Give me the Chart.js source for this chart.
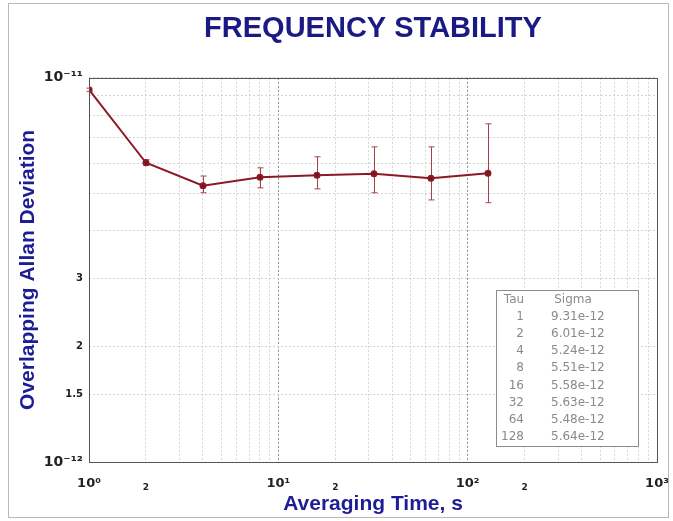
<!DOCTYPE html>
<html>
<head>
<meta charset="utf-8">
<script src="https://cdn.jsdelivr.net/npm/chart.js@4.4.1/dist/chart.umd.min.js"></script>
<style>
  html, body { margin: 0; padding: 0; background: #fff; }
  #wrap { width: 673px; height: 521px; }
</style>
</head>
<body>
<div id="wrap"><canvas id="chart"></canvas></div>
<script>
// averaging time (s) and overlapping Allan deviation, from the table in the picture
const tau = [1, 2, 4, 8, 16, 32, 64, 128]
const sigma = [9.31e-12, 6.01e-12, 5.24e-12, 5.51e-12, 5.58e-12, 5.63e-12, 5.48e-12, 5.64e-12]
// error bar ends
const sigmaHi = [9.40e-12, 6.12e-12, 5.55e-12, 5.83e-12, 6.23e-12, 6.61e-12, 6.61e-12, 7.59e-12]
const sigmaLo = [9.22e-12, 5.92e-12, 5.02e-12, 5.17e-12, 5.14e-12, 5.02e-12, 4.81e-12, 4.73e-12]

// grid lines and labelled ticks
const xGrid = [1, 2, 3, 4, 5, 6, 7, 8, 9, 10, 20, 30, 40, 50, 60, 70, 80, 90,
               100, 200, 300, 400, 500, 600, 700, 800, 900, 1000]
const xDecades = [10, 100]
const xTickValues = [1, 2, 10, 20, 100, 200, 1000]
const xTickLabels = ['10\u2070', '2', '10\u00b9', '2', '10\u00b2', '2', '10\u00b3']
const yGrid = [1e-12, 1.5e-12, 2e-12, 3e-12, 4e-12, 5e-12, 6e-12, 7e-12, 8e-12, 9e-12, 1e-11]
const yTickValues = [1e-12, 1.5e-12, 2e-12, 3e-12, 1e-11]
const yTickLabels = ['10\u207b\u00b9\u00b2', '1.5', '2', '3', '10\u207b\u00b9\u00b9']

const FONT = '"Liberation Sans", Arial, sans-serif'
const TICKFONT = '"DejaVu Sans", sans-serif'
const BLUE = '#1d1d95'

function findIdx(list, v) {
    return list.findIndex(t => Math.abs(t - v) / t < 1e-6)
}
function isPow10(v) {
    const l = Math.log10(v)
    return Math.abs(l - Math.round(l)) < 1e-6
}

const background = {
    id: 'background',
    beforeDraw(chart) {
        const {ctx, width, height} = chart
        ctx.save()
        ctx.fillStyle = '#fff'
        ctx.fillRect(0, 0, width, height)
        ctx.strokeStyle = '#b8b8b8'
        ctx.lineWidth = 1
        ctx.strokeRect(8.5, 3.5, 660, 514)
        ctx.restore()
    },
    afterDraw(chart) {
        const {ctx, chartArea: a} = chart
        ctx.save()
        ctx.strokeStyle = '#555'
        ctx.lineWidth = 1
        ctx.strokeRect(Math.round(a.left) + 0.5, Math.round(a.top) + 0.5,
            Math.round(a.right - a.left), Math.round(a.bottom - a.top))
        ctx.restore()
    }
}

const errorBars = {
    id: 'errorBars',
    beforeDatasetsDraw(chart) {
        const {ctx, scales: {x, y}} = chart
        ctx.save()
        ctx.strokeStyle = '#a8404c'
        ctx.lineWidth = 1
        tau.forEach((t, i) => {
            const px = Math.round(x.getPixelForValue(t)) + 0.5
            const top = y.getPixelForValue(sigmaHi[i])
            const bot = y.getPixelForValue(sigmaLo[i])
            ctx.beginPath()
            ctx.moveTo(px, top)
            ctx.lineTo(px, bot)
            ctx.moveTo(px - 3, top)
            ctx.lineTo(px + 3, top)
            ctx.moveTo(px - 3, bot)
            ctx.lineTo(px + 3, bot)
            ctx.stroke()
        })
        ctx.restore()
    }
}

// the Tau / Sigma table in the lower right corner
const sigmaTable = {
    id: 'sigmaTable',
    afterDraw(chart) {
        const {ctx} = chart
        const left = 496, top = 290, w = 142, h = 156
        ctx.save()
        ctx.fillStyle = '#fff'
        ctx.fillRect(left, top, w, h)
        ctx.strokeStyle = '#8c8c8c'
        ctx.lineWidth = 1
        ctx.strokeRect(left + 0.5, top + 0.5, w, h)
        ctx.fillStyle = '#8a8a8a'
        ctx.font = '12px "DejaVu Sans", sans-serif'
        ctx.textBaseline = 'middle'
        ctx.textAlign = 'center'
        ctx.fillText('Tau', 514, 300)
        ctx.fillText('Sigma', 573, 300)
        tau.forEach((t, i) => {
            const ry = 317 + i * 17.1
            ctx.textAlign = 'right'
            ctx.fillText(String(t), 524, ry)
            ctx.textAlign = 'left'
            ctx.fillText(sigma[i].toExponential(2), 551, ry)
        })
        ctx.restore()
    }
}

new Chart(document.getElementById('chart'), {
    type: 'line',
    data: {
        datasets: [{
            label: 'Overlapping Allan Deviation',
            data: tau.map((t, i) => ({x: t, y: sigma[i]})),
            borderColor: '#8b1a26',
            backgroundColor: '#7a1020',
            borderWidth: 2,
            pointRadius: 2.5,
            pointHoverRadius: 2.5,
            tension: 0
        }]
    },
    options: {
        responsive: true,
        maintainAspectRatio: false,
        animation: false,
        layout: {padding: {left: 0, right: 16, top: 0, bottom: 0}},
        plugins: {
            legend: {display: false},
            tooltip: {enabled: false},
            title: {
                display: true,
                fullSize: false,
                text: 'FREQUENCY STABILITY',
                color: '#1a1a85',
                font: {family: FONT, size: 29, weight: 'bold'},
                padding: {top: 12, bottom: 31}
            }
        },
        scales: {
            x: {
                type: 'logarithmic',
                min: 1,
                max: 1000,
                afterFit: s => {
                    s.height = 59
                    s.paddingLeft = 0
                    s.paddingRight = 0
                },
                afterBuildTicks: s => { s.ticks = xGrid.map(v => ({value: v})) },
                grid: {
                    drawTicks: false,
                    color: c => findIdx(xDecades, c.tick.value) >= 0 ? '#8c8c8c' : '#d4d4d4'
                },
                border: {display: false, dash: [2, 2]},
                ticks: {
                    autoSkip: false,
                    maxRotation: 0,
                    padding: 14,
                    color: '#222',
                    font: c => isPow10(c.tick.value)
                        ? {family: TICKFONT, size: 13, weight: 'bold', lineHeight: 1.2}
                        : {family: TICKFONT, size: 9, weight: 'bold', lineHeight: 2.6},
                    callback: v => {
                        const i = findIdx(xTickValues, v)
                        return i >= 0 ? xTickLabels[i] : ''
                    }
                },
                title: {
                    display: true,
                    text: 'Averaging Time, s',
                    color: BLUE,
                    font: {family: FONT, size: 21, weight: 'bold'},
                    padding: {top: 0, bottom: 4}
                }
            },
            y: {
                type: 'logarithmic',
                min: 1e-12,
                max: 1e-11,
                afterFit: s => { s.width = 89 },
                afterBuildTicks: s => { s.ticks = yGrid.map(v => ({value: v})) },
                grid: {
                    drawTicks: false,
                    color: '#d4d4d4'
                },
                border: {display: false, dash: [2, 2]},
                ticks: {
                    autoSkip: false,
                    padding: 6,
                    color: '#222',
                    font: c => isPow10(c.tick.value)
                        ? {family: TICKFONT, size: 14, weight: 'bold'}
                        : {family: TICKFONT, size: 10, weight: 'bold'},
                    callback: v => {
                        const i = findIdx(yTickValues, v)
                        return i >= 0 ? yTickLabels[i] : ''
                    }
                },
                title: {
                    display: true,
                    text: 'Overlapping Allan Deviation',
                    color: BLUE,
                    font: {family: FONT, size: 21, weight: 'bold'},
                    padding: {top: 16, bottom: 0}
                }
            }
        }
    },
    plugins: [background, errorBars, sigmaTable]
})
</script>
</body>
</html>
